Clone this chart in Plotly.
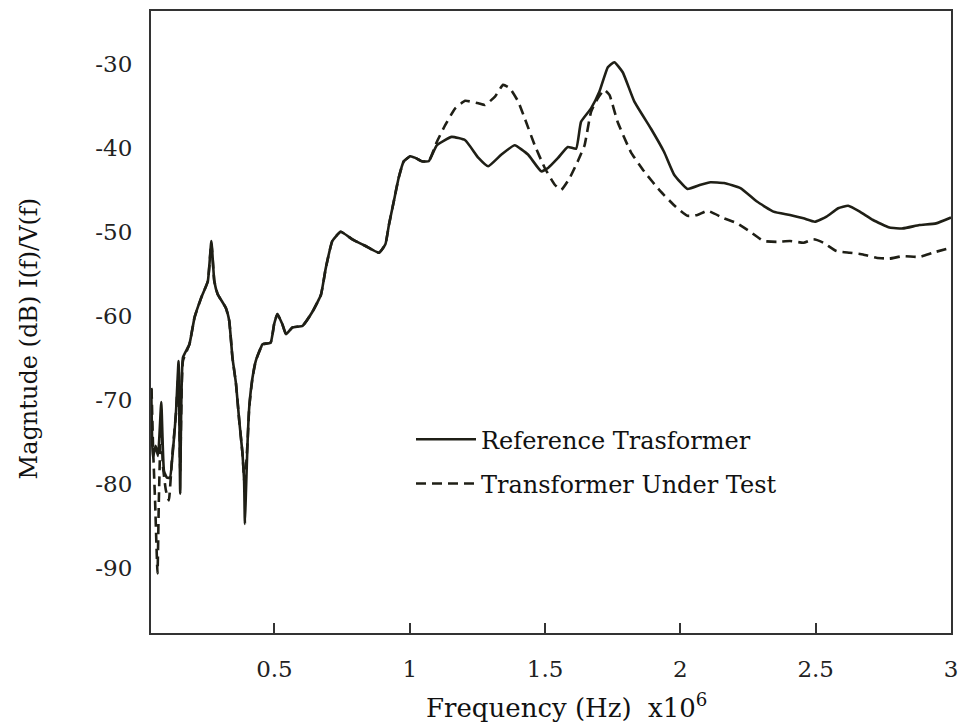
import plotly.graph_objects as go

# ---- data (frequency in MHz i.e. x10^6 Hz, magnitude in dB) ----
freq_ref = [0.045, 0.051, 0.061, 0.070, 0.082, 0.092, 0.103, 0.114, 0.125, 0.136,
            0.146, 0.152, 0.162, 0.186, 0.205, 0.229, 0.254, 0.267, 0.278, 0.290,
            0.321, 0.333, 0.345, 0.358, 0.370, 0.382, 0.388, 0.391, 0.395, 0.401,
            0.407, 0.419, 0.431, 0.450, 0.456, 0.486, 0.499, 0.511, 0.529, 0.543,
            0.567, 0.604, 0.641, 0.672, 0.690, 0.714, 0.745, 0.788, 0.837, 0.886,
            0.910, 0.923, 0.941, 0.959, 0.978, 1.002, 1.021, 1.045, 1.070, 1.100,
            1.155, 1.205, 1.254, 1.290, 1.339, 1.388, 1.437, 1.486, 1.511, 1.548,
            1.584, 1.615, 1.633, 1.670, 1.701, 1.732, 1.756, 1.787, 1.830, 1.891,
            1.940, 1.977, 2.026, 2.075, 2.111, 2.161, 2.222, 2.283, 2.344, 2.405,
            2.455, 2.497, 2.540, 2.583, 2.620, 2.663, 2.712, 2.773, 2.822, 2.883,
            2.945, 3.000]
mag_ref = [-68.6, -76.9, -75.5, -76.7, -70.3, -78.5, -79.3, -79.3, -76.1, -71.7,
           -65.4, -81.2, -65.0, -63.4, -60.2, -57.9, -55.9, -51.1, -55.9, -57.4,
           -59.1, -60.6, -65.0, -68.1, -72.5, -76.4, -79.6, -84.8, -80.8, -74.9,
           -70.9, -67.4, -65.4, -63.8, -63.4, -63.2, -61.0, -59.8, -61.0, -62.2,
           -61.4, -61.2, -59.5, -57.5, -54.3, -51.1, -50.0, -50.9, -51.7, -52.5,
           -51.5, -49.2, -46.4, -43.6, -41.6, -41.0, -41.2, -41.6, -41.6, -39.7,
           -38.7, -39.1, -41.2, -42.2, -40.8, -39.7, -40.8, -42.8, -42.4, -41.2,
           -39.9, -40.1, -36.9, -35.3, -33.3, -30.4, -29.8, -31.0, -34.5, -37.7,
           -40.5, -43.2, -44.9, -44.4, -44.1, -44.2, -44.8, -46.4, -47.6, -48.0,
           -48.4, -48.8, -48.2, -47.2, -46.9, -47.6, -48.6, -49.5, -49.6, -49.2,
           -49.0, -48.3]

freq_test = [0.046, 0.052, 0.059, 0.068, 0.073, 0.081, 0.088, 0.099, 0.110, 0.121,
             0.136, 0.146, 0.152, 0.162, 0.186, 0.205, 0.229, 0.254, 0.267, 0.278,
             0.290, 0.321, 0.333, 0.345, 0.358, 0.370, 0.382, 0.389, 0.395, 0.401,
             0.407, 0.419, 0.431, 0.450, 0.456, 0.486, 0.499, 0.511, 0.529, 0.543,
             0.567, 0.604, 0.641, 0.672, 0.690, 0.714, 0.745, 0.788, 0.837, 0.886,
             0.910, 0.923, 0.941, 0.959, 0.978, 1.002, 1.021, 1.045, 1.070, 1.100,
             1.131, 1.168, 1.205, 1.254, 1.278, 1.315, 1.345, 1.370, 1.401, 1.425,
             1.462, 1.499, 1.536, 1.560, 1.591, 1.621, 1.646, 1.670, 1.695, 1.719,
             1.738, 1.768, 1.817, 1.866, 1.927, 1.982, 2.026, 2.063, 2.100, 2.161,
             2.210, 2.258, 2.307, 2.356, 2.405, 2.455, 2.492, 2.528, 2.577, 2.626,
             2.675, 2.724, 2.773, 2.822, 2.883, 2.932, 3.000]
mag_test = [-68.7, -76.1, -82.0, -90.7, -82.0, -72.5, -77.9, -80.8, -82.0, -77.3,
            -71.7, -66.6, -78.5, -65.4, -63.4, -60.2, -57.9, -55.9, -51.3, -55.9,
            -57.4, -59.1, -60.6, -65.0, -68.1, -72.5, -76.4, -79.8, -78.0, -74.9,
            -70.9, -67.4, -65.4, -63.8, -63.4, -63.2, -61.0, -59.8, -61.0, -62.2,
            -61.4, -61.2, -59.5, -57.5, -54.3, -51.1, -50.0, -50.9, -51.7, -52.5,
            -51.5, -49.2, -46.4, -43.6, -41.6, -41.0, -41.2, -41.6, -41.6, -39.3,
            -37.3, -35.3, -34.4, -34.7, -34.9, -33.9, -32.5, -32.9, -34.5, -36.5,
            -39.7, -42.4, -44.4, -45.0, -43.6, -41.6, -39.7, -35.7, -34.1, -33.1,
            -33.7, -36.9, -40.5, -42.8, -45.2, -47.0, -48.1, -48.0, -47.5, -48.4,
            -49.0, -50.0, -51.1, -51.2, -51.1, -51.3, -50.9, -51.3, -52.3, -52.5,
            -52.7, -53.1, -53.2, -52.9, -53.0, -52.5, -51.9]

x_tickvals = [0.5, 1, 1.5, 2, 2.5, 3]
x_ticktext = ["0.5", "1", "1.5", "2", "2.5", "3"]
y_tickvals = [-90, -80, -70, -60, -50, -40, -30]
y_ticktext = ["-90", "-80", "-70", "-60", "-50", "-40", "-30"]

series_names = ["Reference Trasformer", "Transformer Under Test"]
x_title = "Frequency (Hz)  x10<sup>6</sup>"
y_title = "Magntude (dB) I(f)/V(f)"

SERIF = "DejaVu Serif"
LINE_COLOR = "#1f1f16"

fig = go.Figure()
fig.add_trace(go.Scatter(
    x=freq_ref, y=mag_ref, mode="lines", name=series_names[0],
    line=dict(color=LINE_COLOR, width=2.6, shape="spline", smoothing=0.4),
    legendgroup="a"))
fig.add_trace(go.Scatter(
    x=freq_test, y=mag_test, mode="lines", name=series_names[1],
    line=dict(color=LINE_COLOR, width=2.6, dash="10px,6px", shape="spline", smoothing=0.4),
    legendgroup="b"))

fig.update_layout(
    width=967, height=725,
    margin=dict(l=151, r=12, t=9, b=92),
    paper_bgcolor="white", plot_bgcolor="white",
    showlegend=True,
    legend=dict(x=0.325, y=0.347, xanchor="left", yanchor="top",
                font=dict(family=SERIF, size=24, color="#111"),
                bgcolor="rgba(0,0,0,0)", tracegroupgap=10,
                itemwidth=60, traceorder="grouped"),
    font=dict(family=SERIF, color="#222"),
    annotations=[
        dict(text=x_title, x=0.341, y=-0.117, xref="paper", yref="paper",
             xanchor="left", yanchor="middle", showarrow=False,
             font=dict(family=SERIF, size=26, color="#111")),
        dict(text=y_title, x=-0.153, y=0.473, xref="paper", yref="paper",
             xanchor="center", yanchor="middle", showarrow=False, textangle=-90,
             font=dict(family=SERIF, size=24, color="#111")),
    ],
)
fig.update_xaxes(range=[0.044, 3.0], tickvals=x_tickvals, ticktext=x_ticktext,
                 ticks="inside", ticklen=10, tickwidth=2, tickcolor="#333",
                 showline=True, linecolor="#333", linewidth=2, mirror=True,
                 showgrid=False, zeroline=False,
                 tickfont=dict(family=SERIF, size=23, color="#222"),
                 ticklabelstandoff=14)
fig.update_yaxes(range=[-97.8, -23.7], tickvals=y_tickvals, ticktext=y_ticktext,
                 ticks="", showline=True, linecolor="#333", linewidth=2, mirror=True,
                 showgrid=False, zeroline=False,
                 tickfont=dict(family=SERIF, size=23, color="#222"),
                 ticklabelstandoff=12)

fig.write_html("out.html")
